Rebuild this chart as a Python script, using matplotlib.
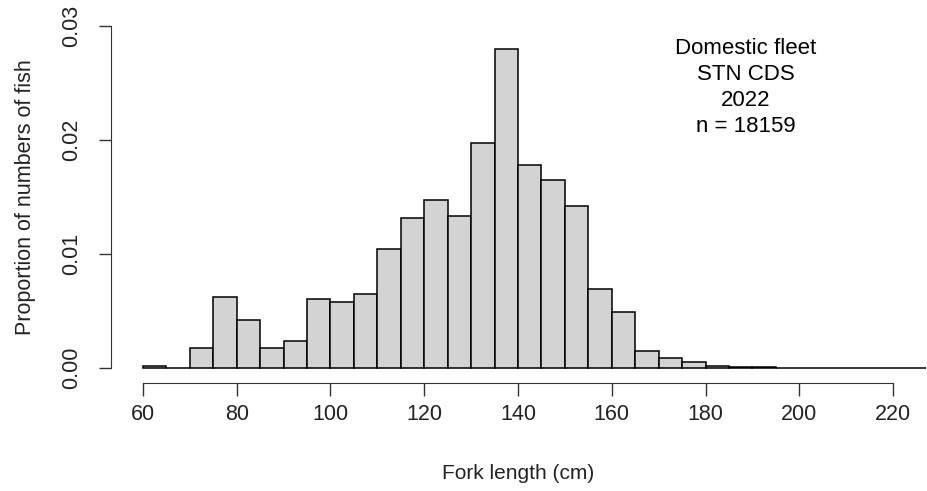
import numpy as np
import matplotlib
matplotlib.use("Agg")
import matplotlib.pyplot as plt

plt.rcParams['font.family'] = ['Liberation Sans', 'DejaVu Sans']

# 5 cm fork length bins, proportion of numbers of fish
bin_edges = np.arange(60, 245, 5)
proportions = [0.00015, 0.00005, 0.0018, 0.0062, 0.0042, 0.0018, 0.0024, 0.0061,
               0.0058, 0.0065, 0.0104, 0.0132, 0.0147, 0.0133, 0.0197, 0.0280,
               0.0178, 0.0165, 0.0142, 0.0069, 0.0049, 0.0015, 0.0009, 0.0005,
               0.0002, 0.00007, 0.00007, 0, 0, 0, 0, 0, 0, 0, 0, 0]
x_ticks = [60, 80, 100, 120, 140, 160, 180, 200, 220]
y_ticks = [0.00, 0.01, 0.02, 0.03]
y_ticklabels = ["0.00", "0.01", "0.02", "0.03"]
note = "Domestic fleet\nSTN CDS\n2022\nn = 18159"

fig = plt.figure(figsize=(9.27, 4.91), dpi=100)
ax = fig.add_axes([111 / 927, (491 - 383) / 491, 815 / 927, 372 / 491])

ax.bar(bin_edges[:-1], proportions, width=5, align='edge',
       color='#d3d3d3', edgecolor='black', linewidth=1.1)

ax.set_xlim(53.2, 227.0)
ax.set_ylim(-0.0013, 0.0313)

for s in ['top', 'right']:
    ax.spines[s].set_visible(False)
ax.spines['bottom'].set_bounds(60, 220)
ax.spines['left'].set_bounds(0, 0.03)
ax.spines['bottom'].set_color('#333333')
ax.spines['left'].set_color('#333333')

ax.set_xticks(x_ticks)
ax.set_yticks(y_ticks)
ax.set_yticklabels(y_ticklabels, rotation=90, va='center')
ax.tick_params(axis='both', length=9, width=1, color='#333333',
               labelsize=15.5, labelcolor='#222222')
ax.tick_params(axis='x', pad=6)
ax.tick_params(axis='y', pad=12)

ax.set_xlabel("Fork length (cm)", fontsize=15, color='#222222', labelpad=28)
ax.set_ylabel("Proportion of numbers of fish", fontsize=15.5, color='#222222', labelpad=18)

ax.text(188.5, 0.0289, note, ha='center', va='top', fontsize=16,
        linespacing=1.3, color='black')

fig.savefig("out.png", dpi=100)
